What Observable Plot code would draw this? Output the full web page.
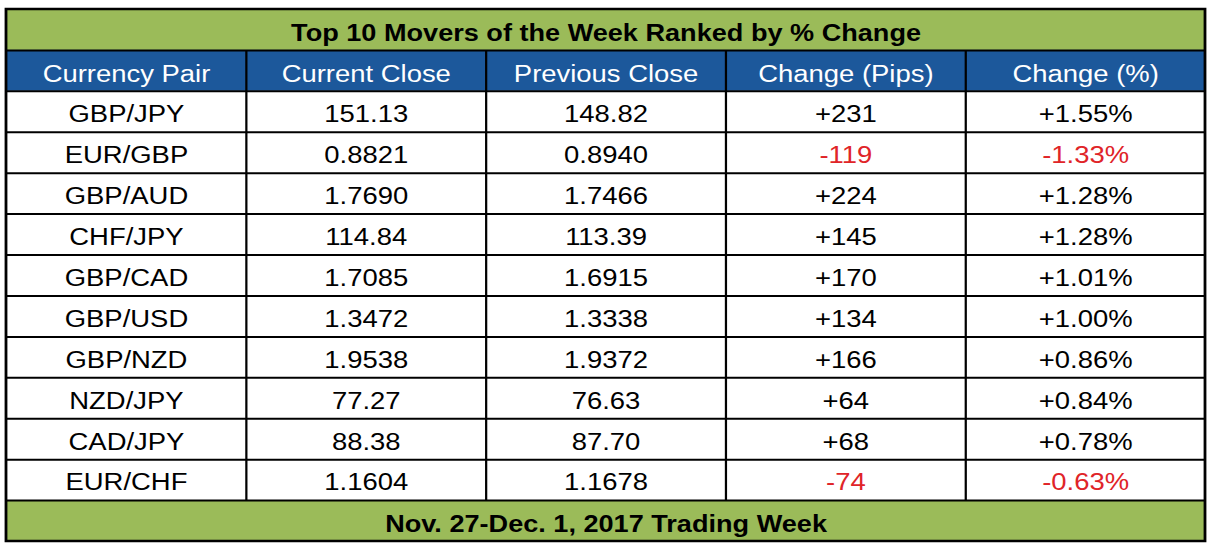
<!DOCTYPE html>
<html>
<head>
<meta charset="utf-8">
<script src="https://cdn.jsdelivr.net/npm/d3@7"></script>
<script src="https://cdn.jsdelivr.net/npm/@observablehq/plot@0.6"></script>
<style>
  html, body { margin: 0; padding: 0; background: #ffffff; }
  #chart svg { display: block; }
</style>
</head>
<body>
<div id="chart"></div>
<script>
const title = "Top 10 Movers of the Week Ranked by % Change";
const footer = "Nov. 27-Dec. 1, 2017 Trading Week";
const headers = ["Currency Pair", "Current Close", "Previous Close", "Change (Pips)", "Change (%)"];
const pairs = ["GBP/JPY", "EUR/GBP", "GBP/AUD", "CHF/JPY", "GBP/CAD", "GBP/USD", "GBP/NZD", "NZD/JPY", "CAD/JPY", "EUR/CHF"];
const currentClose = [151.13, 0.8821, 1.7690, 114.84, 1.7085, 1.3472, 1.9538, 77.27, 88.38, 1.1604];
const previousClose = [148.82, 0.8940, 1.7466, 113.39, 1.6915, 1.3338, 1.9372, 76.63, 87.70, 1.1678];
const changePips = [231, -119, 224, 145, 170, 134, 166, 64, 68, -74];
const changePct = [1.55, -1.33, 1.28, 1.28, 1.01, 1.00, 0.86, 0.84, 0.78, -0.63];

const GREEN = "#9bbb59", BLUE = "#1c589b", RED = "#e02428";
const s = 1.12;                 // horizontal stretch of the original picture
const W = 1212 / s, H = 547;
const nCols = headers.length, nRows = pairs.length;

const fmtPrice = (p, v) => p.includes("JPY") ? v.toFixed(2) : v.toFixed(4);
const signed = (v, d) => (v > 0 ? "+" : "") + v.toFixed(d);

// bands: title (0), header (1), body (2..12), footer (12..13)
const bands = [
  {y1: 0, y2: 1, fill: GREEN},
  {y1: 1, y2: 2, fill: BLUE},
  {y1: 2, y2: 2 + nRows, fill: "#ffffff"},
  {y1: 2 + nRows, y2: 3 + nRows, fill: GREEN}
];

const cells = [];
pairs.forEach((p, i) => {
  const vals = [p, fmtPrice(p, currentClose[i]), fmtPrice(p, previousClose[i]),
                signed(changePips[i], 0), signed(changePct[i], 2) + "%"];
  vals.forEach((t, j) => {
    const neg = j >= 3 && changePips[i] < 0;
    cells.push({col: j, row: i, text: t, color: neg ? RED : "#000000"});
  });
});
const headCells = headers.map((h, j) => ({col: j, text: h}));
const bars = [{text: title, row: 0}, {text: footer, row: 2 + nRows}];

const font = "Liberation Sans, Arial, Helvetica, sans-serif";

const chart = Plot.plot({
  width: W,
  height: H,
  x: {domain: [0, nCols], range: [6 / s, 1205 / s], axis: null},
  y: {domain: [0, nRows + 3], range: [9, 541], axis: null},
  style: {fontFamily: font, background: "#ffffff"},
  marks: [
    Plot.rect(bands, {x1: () => 0, x2: () => nCols, y1: "y1", y2: "y2", fill: "fill"}),
    Plot.ruleY(d3.range(1, nRows + 3), {x1: () => 0, x2: () => nCols, stroke: "#000", strokeWidth: 2}),
    Plot.ruleX(d3.range(1, nCols), {y1: () => 1, y2: () => 2 + nRows, stroke: "#000", strokeWidth: 2}),
    Plot.rect([0], {x1: () => 0, x2: () => nCols, y1: () => 0, y2: () => nRows + 3, fill: "none", stroke: "#000", strokeWidth: 2.5}),
    Plot.text(bars, {x: () => nCols / 2, y: d => d.row + 0.5, dy: 3, text: "text", fill: "#000", fontSize: 24.2, fontWeight: "bold", fontFamily: font}),
    Plot.text(headCells, {x: d => d.col + 0.5, y: () => 1.5, dy: 3, text: "text", fill: "#ffffff", fontSize: 24.5, fontFamily: font}),
    Plot.text(cells, {x: d => d.col + 0.5, y: d => d.row + 2.5, dy: 2.5, text: "text", fill: d => d.color, fontSize: 24.5, fontFamily: font})
  ]
});
chart.setAttribute("width", 1212);
chart.setAttribute("height", H);
chart.setAttribute("preserveAspectRatio", "none");
chart.style.width = "1212px";
chart.style.height = H + "px";
chart.style.maxWidth = "none";
document.getElementById("chart").appendChild(chart);
</script>
</body>
</html>
